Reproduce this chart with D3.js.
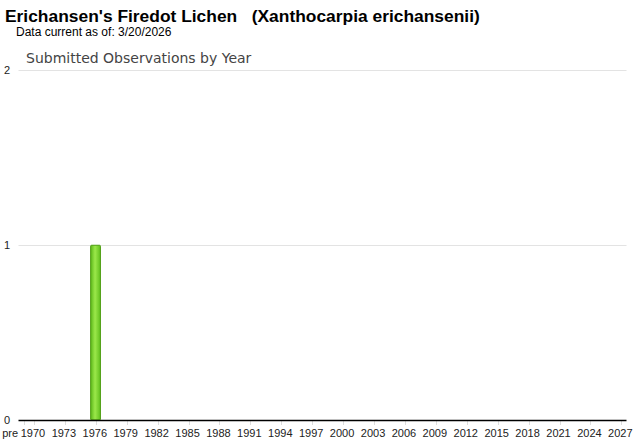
<!DOCTYPE html>
<html><head><meta charset="utf-8">
<script src="https://cdnjs.cloudflare.com/ajax/libs/d3/7.8.5/d3.min.js"></script>
<style>body{margin:0;background:#fff}svg{display:block}</style>
</head><body>
<script>
const title = "Erichansen's Firedot Lichen\u00a0\u00a0\u00a0(Xanthocarpia erichansenii)";
const subtitle = "Data current as of: 3/20/2026";
const chartTitle = "Submitted Observations by Year";
const categories = ["pre"].concat(d3.range(1970, 2028).map(String));
const observedYears = ["1976"];
const observedCounts = [1];
const yTicks = [0, 1, 2];
const values = categories.map(c => { const i = observedYears.indexOf(c); return i < 0 ? 0 : observedCounts[i]; });

const W = 640, H = 442;
const svg = d3.select("body").append("svg").attr("width", W).attr("height", H);
const defs = svg.append("defs");
const g = defs.append("linearGradient").attr("id", "barg").attr("x1", 0).attr("x2", 1).attr("y1", 0).attr("y2", 0);
g.append("stop").attr("offset", "0%").attr("stop-color", "#5cb81a");
g.append("stop").attr("offset", "45%").attr("stop-color", "#9be84a");
g.append("stop").attr("offset", "100%").attr("stop-color", "#62bf1e");

svg.append("text").attr("x", 5).attr("y", 22).attr("font-family", "Liberation Sans, Arial, sans-serif")
  .attr("font-weight", "bold").attr("font-size", 17.4).attr("fill", "#000").text(title);
svg.append("text").attr("x", 16).attr("y", 36).attr("font-family", "Liberation Sans, Arial, sans-serif")
  .attr("font-size", 12).attr("fill", "#000").text(subtitle);
svg.append("text").attr("x", 26).attr("y", 63).attr("font-family", "DejaVu Sans, Verdana, sans-serif")
  .attr("font-size", 14).attr("fill", "#444").text(chartTitle);

const x = d3.scaleBand().domain(categories).range([18.5, 626.5]).paddingInner(0).paddingOuter(0);
const y = d3.scaleLinear().domain([0, 2]).range([420, 69.5]);

// gridlines
svg.append("g").selectAll("line").data(yTicks.filter(t => t > 0)).join("line")
  .attr("x1", 18.5).attr("x2", 626.5).attr("y1", d => Math.round(y(d)) + 0.5).attr("y2", d => Math.round(y(d)) + 0.5)
  .attr("stroke", "#e3e3e3").attr("stroke-width", 1);

// y labels
svg.append("g").selectAll("text").data(yTicks).join("text")
  .attr("x", 10).attr("y", d => y(d) + 4).attr("text-anchor", "end")
  .attr("font-family", "Liberation Sans, Arial, sans-serif").attr("font-size", 11).attr("fill", "#222")
  .text(d => d);

// x ticks and labels
const labelled = categories.filter((c, i) => i === 0 || (i - 1) % 3 === 0);
const xa = svg.append("g");
xa.selectAll("line").data(labelled).join("line")
  .attr("x1", d => Math.round(x(d) + x.bandwidth() / 2) + 0.5).attr("x2", d => Math.round(x(d) + x.bandwidth() / 2) + 0.5)
  .attr("y1", 420).attr("y2", 425).attr("stroke", "#ddd");
xa.selectAll("text").data(labelled).join("text")
  .attr("x", d => x(d) + x.bandwidth() / 2 + (d === "pre" ? -5.5 : -1))
  .attr("y", 437).attr("text-anchor", d => d === "pre" ? "end" : "middle")
  .attr("font-family", "Liberation Sans, Arial, sans-serif").attr("font-size", 11).attr("fill", "#222")
  .text(d => d);

// bars
svg.append("g").selectAll("rect").data(categories.filter((c, i) => values[i] > 0)).join("rect")
  .attr("x", d => x(d)).attr("width", x.bandwidth() - 0.5)
  .attr("y", d => y(values[categories.indexOf(d)]) + 0.5)
  .attr("height", d => y(0) - y(values[categories.indexOf(d)]) - 0.5)
  .attr("rx", 1)
  .attr("fill", "url(#barg)").attr("stroke", "#4f9e14").attr("stroke-width", 1);

// baseline
svg.append("line").attr("x1", 18.5).attr("x2", 626.5).attr("y1", 420.5).attr("y2", 420.5)
  .attr("stroke", "#000").attr("stroke-width", 1.5);
</script>
</body></html>
